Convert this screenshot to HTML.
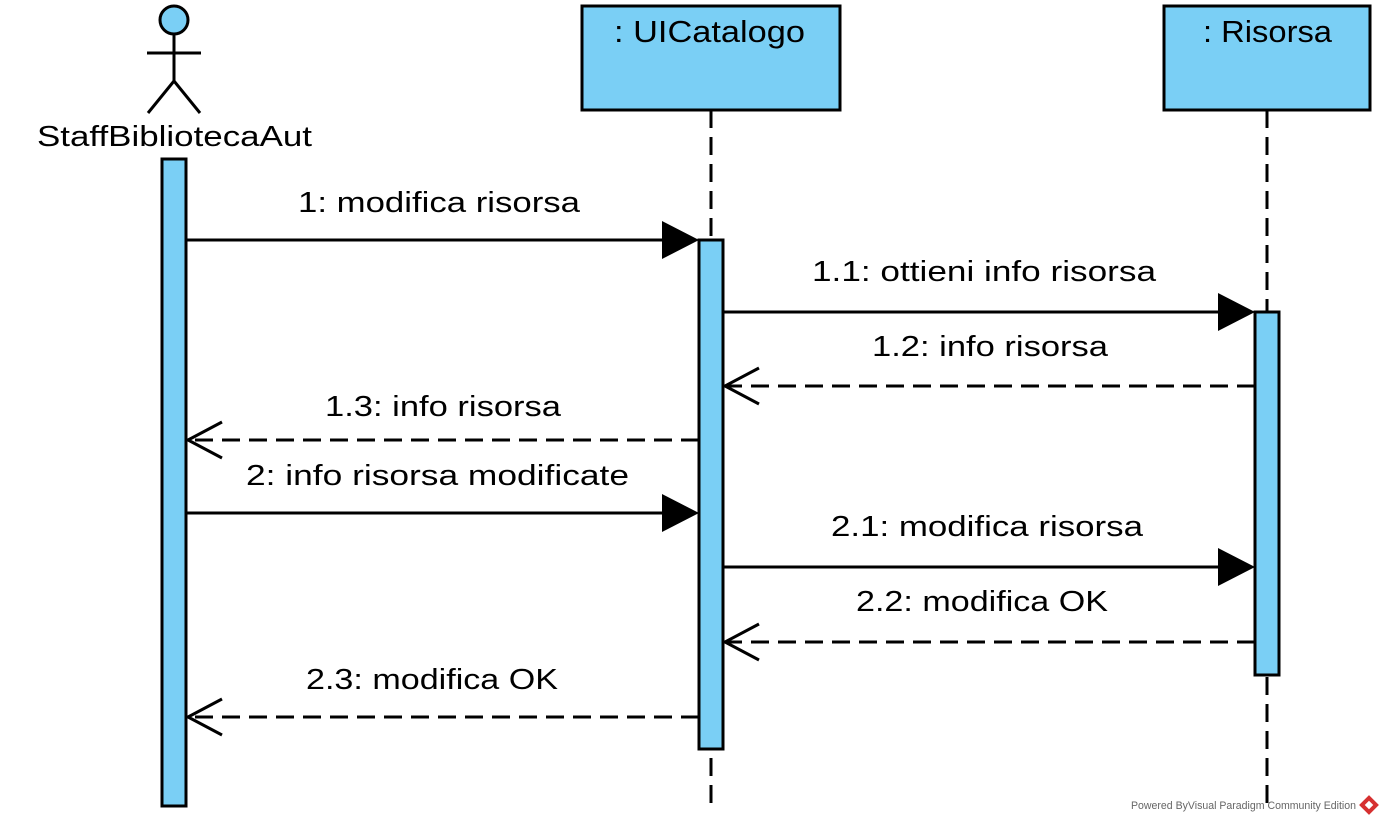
<!DOCTYPE html>
<html><head><meta charset="utf-8"><style>html,body{margin:0;padding:0;background:#fff}</style></head>
<body>
<svg width="1383" height="822" xmlns="http://www.w3.org/2000/svg" font-family="'Liberation Sans', sans-serif" font-size="29">
<rect width="1383" height="822" fill="#fff"/>
<g stroke="#000" stroke-width="3" fill="none">
<circle cx="174" cy="20" r="14" fill="#7acff5"/>
<line x1="174" y1="34" x2="174" y2="81"/>
<line x1="147" y1="53" x2="201" y2="53"/>
<line x1="174" y1="81" x2="148" y2="113"/>
<line x1="174" y1="81" x2="200" y2="113"/>
</g>
<text x="37" y="146" textLength="275" lengthAdjust="spacingAndGlyphs">StaffBibliotecaAut</text>
<rect x="582" y="6" width="258" height="104" fill="#7acff5" stroke="#000" stroke-width="3"/>
<text x="614" y="42" font-size="31" textLength="191" lengthAdjust="spacingAndGlyphs">: UICatalogo</text>
<rect x="1164" y="6" width="206" height="104" fill="#7acff5" stroke="#000" stroke-width="3"/>
<text x="1203" y="42" font-size="31" textLength="129" lengthAdjust="spacingAndGlyphs">: Risorsa</text>
<g stroke="#000" stroke-width="3" stroke-dasharray="18,9">
<line x1="711" y1="110" x2="711" y2="812"/>
<line x1="1267" y1="110" x2="1267" y2="812"/>
</g>
<g fill="#7acff5" stroke="#000" stroke-width="3">
<rect x="162" y="159" width="24" height="647"/>
<rect x="699" y="240" width="24" height="509"/>
<rect x="1255" y="312" width="24" height="363"/>
</g>
<g stroke="#000" stroke-width="3">
<line x1="186" y1="240" x2="665" y2="240"/>
<line x1="723" y1="312" x2="1220" y2="312"/>
<line x1="186" y1="513" x2="665" y2="513"/>
<line x1="723" y1="567" x2="1220" y2="567"/>
</g>
<g fill="#000">
<polygon points="699,240 662,221 662,259"/>
<polygon points="1255,312 1218,293 1218,331"/>
<polygon points="699,513 662,494 662,532"/>
<polygon points="1255,567 1218,548 1218,586"/>
</g>
<g stroke="#000" stroke-width="3" fill="none">
<line x1="1255" y1="386" x2="725" y2="386" stroke-dasharray="18,9"/>
<polyline points="759,368 725,386 759,404"/>
<line x1="699" y1="440" x2="188" y2="440" stroke-dasharray="18,9"/>
<polyline points="222,422 188,440 222,458"/>
<line x1="1255" y1="642" x2="725" y2="642" stroke-dasharray="18,9"/>
<polyline points="759,624 725,642 759,660"/>
<line x1="699" y1="717" x2="188" y2="717" stroke-dasharray="18,9"/>
<polyline points="222,699 188,717 222,735"/>
</g>
<text x="298" y="212" textLength="282" lengthAdjust="spacingAndGlyphs">1: modifica risorsa</text>
<text x="812" y="281" textLength="344" lengthAdjust="spacingAndGlyphs">1.1: ottieni info risorsa</text>
<text x="872" y="356" textLength="236" lengthAdjust="spacingAndGlyphs">1.2: info risorsa</text>
<text x="325" y="416" textLength="236" lengthAdjust="spacingAndGlyphs">1.3: info risorsa</text>
<text x="246" y="485" textLength="383" lengthAdjust="spacingAndGlyphs">2: info risorsa modificate</text>
<text x="831" y="536" textLength="312" lengthAdjust="spacingAndGlyphs">2.1: modifica risorsa</text>
<text x="856" y="611" textLength="252" lengthAdjust="spacingAndGlyphs">2.2: modifica OK</text>
<text x="306" y="689" textLength="252" lengthAdjust="spacingAndGlyphs">2.3: modifica OK</text>
<text x="1131" y="809" font-size="11" fill="#666" textLength="225" lengthAdjust="spacingAndGlyphs">Powered ByVisual Paradigm Community Edition</text>
<g transform="translate(1369,805) rotate(45)"><rect x="-7" y="-7" width="14" height="14" fill="#d63030"/><rect x="-3" y="-3" width="6" height="6" fill="#fff"/></g>
</svg>
</body></html>
